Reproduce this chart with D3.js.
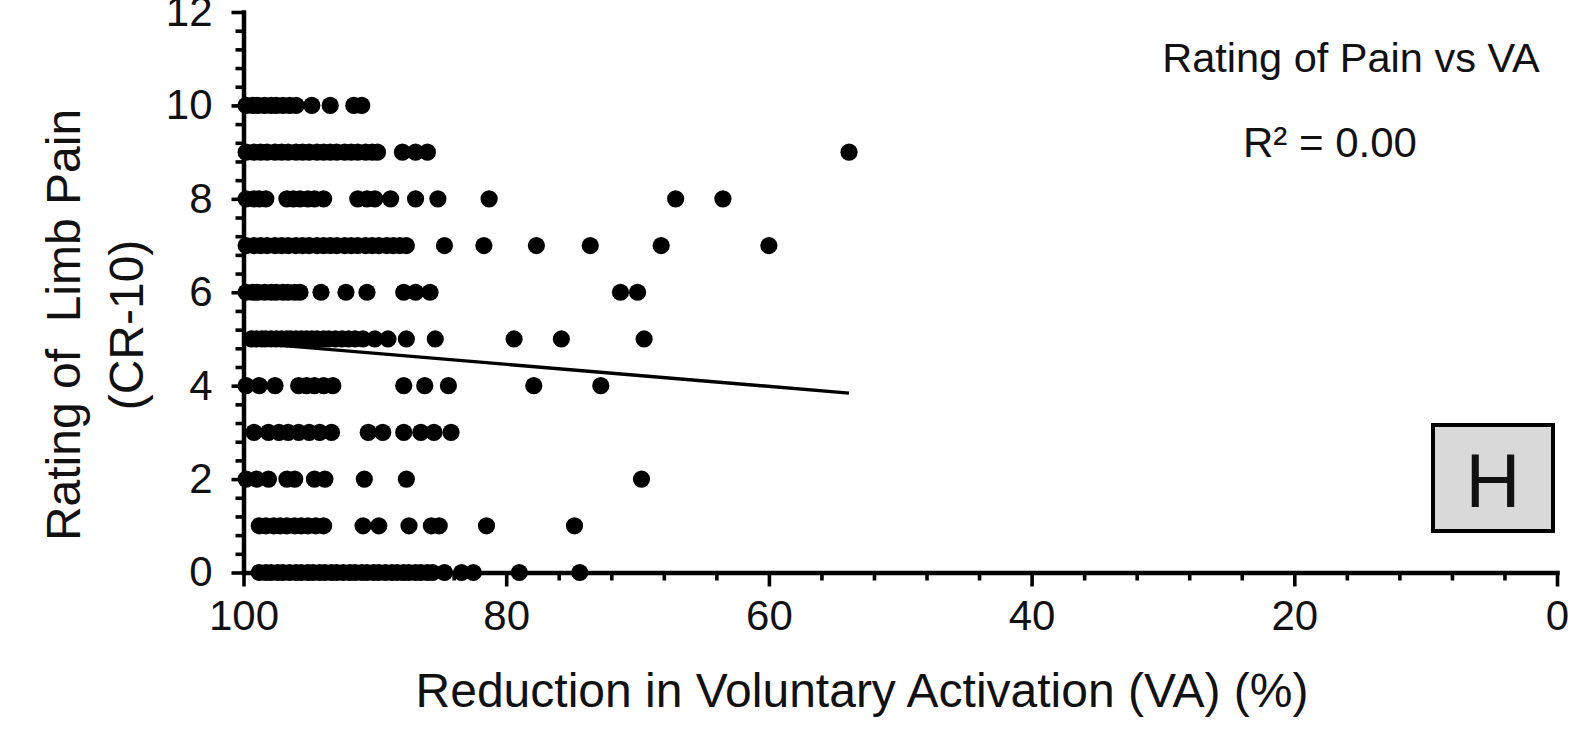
<!DOCTYPE html>
<html>
<head>
<meta charset="utf-8">
<script src="https://cdn.jsdelivr.net/npm/d3@7"></script>
<style>
  html, body { margin: 0; padding: 0; background: #fff; }
  svg { display: block; }
  text { font-family: "Liberation Sans", Arial, Helvetica, sans-serif; fill: #111; }
</style>
</head>
<body>
<svg id="chart" width="1570" height="744"></svg>
<script>
// Pain ratings (CR-10) and the VA reductions (%) recorded at each rating
const painRatings = [0, 1, 2, 3, 4, 5, 6, 7, 8, 9, 10];

const vaRating0 = [98.8, 98.3, 97.9, 97.4, 97.0, 96.5, 96.0, 95.6, 95.1, 94.7, 94.2, 93.8, 93.3, 92.9,
  92.4, 91.9, 91.5, 91.0, 90.6, 90.1, 89.7, 89.2, 88.7, 88.3, 87.8, 87.4, 86.9, 86.5, 86.0, 85.6,
  84.7, 83.4, 82.5, 79.0, 74.4];
const vaRating1 = [98.8, 98.3, 97.7, 97.2, 96.7, 96.1, 95.6, 95.1, 94.5, 93.9, 90.9, 89.7, 87.4,
  85.7, 85.1, 81.5, 74.8];
const vaRating2 = [99.8, 99.0, 98.1, 96.7, 96.1, 94.6, 93.8, 90.8, 87.6, 69.7];
const vaRating3 = [99.2, 98.1, 97.3, 96.6, 95.8, 95.0, 94.2, 93.3, 90.5, 89.4, 87.8, 86.5, 85.5, 84.2];
const vaRating4 = [99.8, 98.8, 97.6, 95.8, 95.2, 94.6, 93.9, 93.2, 87.8, 86.2, 84.4, 77.9, 72.8];
const vaRating5 = [99.4, 99.0, 98.6, 98.3, 97.9, 97.5, 97.1, 96.7, 96.4, 96.0, 95.6, 95.2, 94.8,
  94.4, 93.9, 93.5, 93.0, 92.5, 92.0, 91.5, 90.9, 90.0, 89.0, 87.6, 85.4, 79.4, 75.8, 69.5];
const vaRating6 = [99.8, 99.3, 98.9, 98.4, 97.9, 97.5, 97.0, 96.6, 96.1, 95.7, 94.1, 92.2, 90.6,
  87.8, 86.9, 85.8, 71.3, 70.0];
const vaRating7 = [99.8, 99.2, 98.7, 98.2, 97.6, 97.1, 96.6, 96.0, 95.5, 95.0, 94.4, 93.9, 93.4,
  92.9, 92.3, 91.8, 91.3, 90.7, 90.2, 89.7, 89.1, 88.6, 88.1, 87.6, 84.7, 81.7, 77.7, 73.6, 68.2, 60.0];
const vaRating8 = [99.8, 99.2, 98.8, 98.3, 96.7, 96.2, 95.7, 95.1, 94.6, 93.9, 91.3, 90.6, 90.0,
  88.8, 86.9, 85.2, 81.3, 67.1, 63.5];
const vaRating9 = [99.8, 99.2, 98.7, 98.2, 97.6, 97.1, 96.6, 96.0, 95.5, 95.0, 94.4, 93.9, 93.4,
  92.9, 92.3, 91.8, 91.3, 90.7, 90.2, 89.8, 87.9, 86.9, 86.0, 53.9];
const vaRating10 = [99.8, 99.3, 98.9, 98.4, 97.9, 97.5, 97.0, 96.5, 96.0, 94.8, 93.4, 91.6, 91.0];

const vaByRating = [vaRating0, vaRating1, vaRating2, vaRating3, vaRating4, vaRating5,
  vaRating6, vaRating7, vaRating8, vaRating9, vaRating10];

// Linear trend endpoints (VA %, pain rating)
const trendVA = [100, 53.9];
const trendPain = [4.93, 3.84];

// Axis ticks and text
const xTicks = [100, 80, 60, 40, 20, 0];
const yTicks = [0, 2, 4, 6, 8, 10, 12];
const xMinorStep = 4;
const yMinorStep = 0.4;
const chartTitle = "Rating of Pain vs VA";
const rSquaredLabel = "R\u00B2 = 0.00";
const panelLetter = "H";
const xTitle = "Reduction in Voluntary Activation (VA) (%)";
const yTitleLines = ["Rating of  Limb Pain", "(CR-10)"];

// Flatten to point records
const points = [];
painRatings.forEach((r, i) => vaByRating[i].forEach(v => points.push({ va: v, pain: r })));

const svg = d3.select("#chart");
svg.append("rect").attr("width", 1570).attr("height", 744).attr("fill", "#fff");

const x = d3.scaleLinear().domain([100, 0]).range([243.5, 1557]);
const y = d3.scaleLinear().domain([0, 12]).range([572.5, 12]);

function styleAxis(g, domainWidth) {
  g.select(".domain").attr("stroke", "#000").attr("stroke-width", domainWidth).attr("stroke-linecap", "square");
  g.selectAll(".tick line").attr("stroke", "#000").attr("stroke-width", 3.6);
  g.selectAll(".tick text").attr("font-size", 42).attr("fill", "#111")
    .attr("font-family", "'Liberation Sans', Arial, Helvetica, sans-serif");
}

// Minor ticks
const xMinor = d3.range(0, 100 + 1e-9, xMinorStep).filter(v => !xTicks.includes(v));
svg.append("g").attr("transform", `translate(0,${y(0)})`)
  .call(d3.axisBottom(x).tickValues(xMinor).tickSize(8).tickFormat(""))
  .call(g => { g.select(".domain").remove(); g.selectAll(".tick line").attr("stroke", "#000").attr("stroke-width", 3.6); });

const yMinor = d3.range(0, 12 + 1e-9, yMinorStep).map(v => +v.toFixed(1)).filter(v => !yTicks.includes(v));
svg.append("g").attr("transform", `translate(${x(100)},0)`)
  .call(d3.axisLeft(y).tickValues(yMinor).tickSize(8).tickFormat(""))
  .call(g => { g.select(".domain").remove(); g.selectAll(".tick line").attr("stroke", "#000").attr("stroke-width", 3.6); });

// Major axes
svg.append("g").attr("transform", `translate(0,${y(0)})`)
  .call(d3.axisBottom(x).tickValues(xTicks).tickSize(14).tickSizeOuter(0).tickPadding(14).tickFormat(d3.format("d")))
  .call(g => styleAxis(g, 4.5));

svg.append("g").attr("transform", `translate(${x(100)},0)`)
  .call(d3.axisLeft(y).tickValues(yTicks).tickSize(12).tickSizeOuter(0).tickPadding(19).tickFormat(d3.format("d")))
  .call(g => styleAxis(g, 4.5));

// Points
svg.append("g").selectAll("circle").data(points).join("circle")
  .attr("cx", d => x(d.va))
  .attr("cy", d => y(d.pain))
  .attr("r", 8.6)
  .attr("fill", "#000");

// Trend line
const trend = trendVA.map((v, i) => ({ va: v, pain: trendPain[i] }));
svg.append("path").datum(trend)
  .attr("d", d3.line().x(d => x(d.va)).y(d => y(d.pain)))
  .attr("stroke", "#000").attr("stroke-width", 3.4).attr("fill", "none");

// Annotations
svg.append("text").attr("x", 1351).attr("y", 72).attr("text-anchor", "middle")
  .attr("font-size", 41.5).text(chartTitle);
svg.append("text").attr("x", 1330).attr("y", 157).attr("text-anchor", "middle")
  .attr("font-size", 42).text(rSquaredLabel);

// Panel letter box
svg.append("rect").attr("x", 1433).attr("y", 425).attr("width", 120).attr("height", 106)
  .attr("fill", "#d9d9d9").attr("stroke", "#000").attr("stroke-width", 4);
svg.append("text").attr("x", 1493).attr("y", 507).attr("text-anchor", "middle")
  .attr("font-size", 76).text(panelLetter);

// Axis titles
svg.append("text").attr("x", 862).attr("y", 707).attr("text-anchor", "middle")
  .attr("font-size", 48).text(xTitle);

const yTitle = svg.append("text").attr("text-anchor", "middle")
  .attr("transform", "translate(0,325) rotate(-90)").attr("font-size", 48);
yTitle.append("tspan").attr("x", 0).attr("y", 80).attr("xml:space", "preserve").style("white-space", "pre").text(yTitleLines[0]);
yTitle.append("tspan").attr("x", 0).attr("y", 143).text(yTitleLines[1]);
</script>
</body>
</html>
